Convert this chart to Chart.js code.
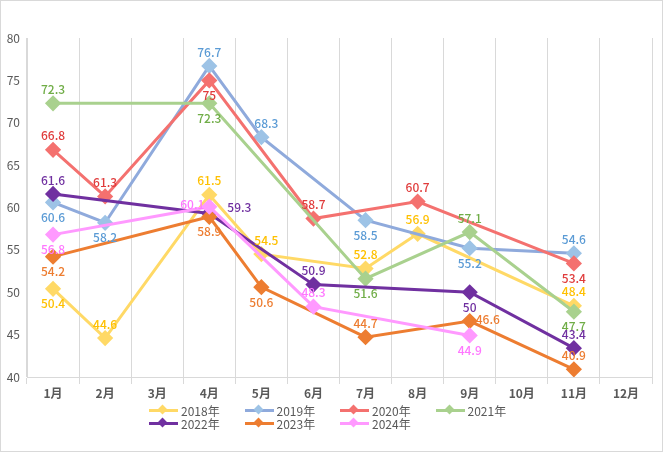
<!DOCTYPE html>
<html lang="zh">
<head>
    <meta charset="utf-8" />
    <title>月度数据 2018-2024</title>
    <script src="https://cdn.jsdelivr.net/npm/chart.js"></script>
    <style>
        body { margin: 0; background: #fff; }
        .wrap { position: relative; width: 663px; height: 452px; font-family: "Noto Sans CJK SC", "Noto Sans", sans-serif; }
        .wrap canvas { position: absolute; left: 0; top: 0; }
        .frame { position: absolute; left: 0; top: 0; width: 663px; height: 452px; box-sizing: border-box; border: 1px solid #d9d9d9; pointer-events: none; }
        .legend { position: absolute; left: 149px; top: 403px; width: 400px; }
        .item { position: absolute; height: 16px; font-size: 12px; color: #595959; line-height: 16px; white-space: nowrap; }
        .swatch { position: absolute; left: 0; top: 6px; width: 29px; height: 3px; }
        .dia { position: absolute; left: 10px; top: 3px; width: 7px; height: 7px; transform: rotate(45deg); }
        .txt { position: absolute; left: 32px; top: 0; }
    </style>
</head>
<body>
    <div class="wrap">
        <canvas id="myChart" width="663" height="452"></canvas>
        <div class="legend" id="legend"></div>
        <div class="frame"></div>
    </div>
    <script>
        // months on the x axis
        const months = ['1月', '2月', '3月', '4月', '5月', '6月', '7月', '8月', '9月', '10月', '11月', '12月'];
        const seriesNames = ['2018年', '2019年', '2020年', '2021年', '2022年', '2023年', '2024年'];

        // values per year (null = no value that month)
        const v2018 = [50.4, 44.6, null, 61.5, 54.5, null, 52.8, 56.9, null, null, 48.4, null];
        const v2019 = [60.6, 58.2, null, 76.7, 68.3, null, 58.5, null, 55.2, null, 54.6, null];
        const v2020 = [66.8, 61.3, null, 75, null, 58.7, null, 60.7, null, null, 53.4, null];
        const v2021 = [72.3, null, null, 72.3, null, null, 51.6, null, 57.1, null, 47.7, null];
        const v2022 = [61.6, null, null, 59.3, null, 50.9, null, null, 50, null, 43.4, null];
        const v2023 = [54.2, null, null, 58.9, 50.6, null, 44.7, null, 46.6, null, 40.9, null];
        const v2024 = [56.8, null, null, 60.1, null, 48.3, null, null, 44.9, null, null, null];

        // where each value label sits: t = above, b = below, l = left,
        // r = right, n = right (close), q = above right
        const labelPos = [
            ['b', 't', null, 't', 'q', null, 't', 't', null, null, 't', null],
            ['b', 'b', null, 't', 'q', null, 'b', null, 'b', null, 't', null],
            ['t', 't', null, 'b', null, 't', null, 't', null, null, 'b', null],
            ['t', null, null, 'b', null, null, 'b', null, 't', null, 'b', null],
            ['t', null, null, 'r', null, 't', null, null, 'b', null, 't', null],
            ['b', null, null, 'b', 'b', null, 't', null, 'n', null, 't', null],
            ['b', null, null, 'l', null, 't', null, null, 'b', null, null, null]
        ];

        const lineColors = ['#ffd966', '#8faadc', '#f4716f', '#a9d18e', '#7030a0', '#ed7d31', '#ff99ff'];
        const pointColors = ['#ffd966', '#9dc3e6', '#f4716f', '#a9d18e', '#7030a0', '#ed7d31', '#ff99ff'];
        const labelColors = ['#ffc000', '#5b9bd5', '#e03c3c', '#70ad47', '#7030a0', '#ed7d31', '#ff77ff'];

        const allValues = [v2018, v2019, v2020, v2021, v2022, v2023, v2024];

        const datasets = allValues.map((vals, i) => ({
            label: seriesNames[i],
            data: vals,
            borderColor: lineColors[i],
            backgroundColor: pointColors[i],
            pointBackgroundColor: pointColors[i],
            pointBorderColor: pointColors[i],
            borderWidth: 3,
            pointStyle: 'rectRot',
            pointRadius: 6,
            pointHoverRadius: 6,
            spanGaps: true,
            tension: 0,
            order: 10 - i
        }));

        // draws the value labels next to the points
        const valueLabels = {
            id: 'valueLabels',
            afterDatasetsDraw(chart) {
                const ctx = chart.ctx;
                ctx.save();
                ctx.font = '500 12px "Noto Sans CJK SC", "Noto Sans", sans-serif';
                chart.data.datasets.forEach((ds, i) => {
                    const meta = chart.getDatasetMeta(i);
                    meta.data.forEach((pt, j) => {
                        const v = ds.data[j];
                        if (v === null) return;
                        const pos = labelPos[i][j] || 't';
                        let x = pt.x, y = pt.y;
                        ctx.textAlign = 'center';
                        ctx.textBaseline = 'middle';
                        if (pos === 't') y -= 14;
                        else if (pos === 'b') y += 15;
                        else if (pos === 'q') { x += 5; y -= 14; }
                        else if (pos === 'r') { x += 18; ctx.textAlign = 'left'; y -= 6; }
                        else if (pos === 'n') { x += 6; ctx.textAlign = 'left'; y -= 2; }
                        else if (pos === 'l') { x -= 5; ctx.textAlign = 'right'; y -= 2; }
                        ctx.fillStyle = labelColors[i];
                        ctx.fillText(String(v), x, y);
                    });
                });
                ctx.restore();
            }
        };

        const ctx = document.getElementById('myChart').getContext('2d');
        const myChart = new Chart(ctx, {
            type: 'line',
            data: { labels: months, datasets: datasets },
            options: {
                responsive: false,
                animation: false,
                layout: { padding: { top: 38, right: 11, left: 0, bottom: 0 } },
                plugins: {
                    legend: { display: false },
                    tooltip: { enabled: false }
                },
                scales: {
                    x: {
                        offset: true,
                        grid: { color: '#d9d9d9', lineWidth: 1, tickLength: 7, offset: true },
                        border: { color: '#d9d9d9' },
                        ticks: {
                            color: '#595959',
                            padding: 2,
                            font: { family: '"Noto Sans CJK SC", sans-serif', size: 12, weight: 'bold' }
                        },
                        afterFit(scale) { scale.height = 75; }
                    },
                    y: {
                        min: 40,
                        max: 80,
                        grid: { display: false, drawTicks: false, tickLength: 0 },
                        border: { color: '#d9d9d9' },
                        ticks: {
                            stepSize: 5,
                            color: '#595959',
                            padding: 7,
                            font: { family: '"Noto Sans CJK SC", sans-serif', size: 12 }
                        },
                        afterFit(scale) { scale.width = 27; }
                    }
                }
            },
            plugins: [valueLabels]
        });

        // legend: 4 columns per row, rows left aligned
        const legendEl = document.getElementById('legend');
        seriesNames.forEach((name, i) => {
            const col = i % 4, row = Math.floor(i / 4);
            const item = document.createElement('div');
            item.className = 'item';
            item.style.left = (col * 95.5) + 'px';
            item.style.top = (row * 13) + 'px';
            item.innerHTML = `<span class="swatch" style="background:${lineColors[i]}"></span>` +
                `<span class="dia" style="background:${pointColors[i]}"></span>` +
                `<span class="txt">${name}</span>`;
            legendEl.appendChild(item);
        });
    </script>
</body>
</html>
